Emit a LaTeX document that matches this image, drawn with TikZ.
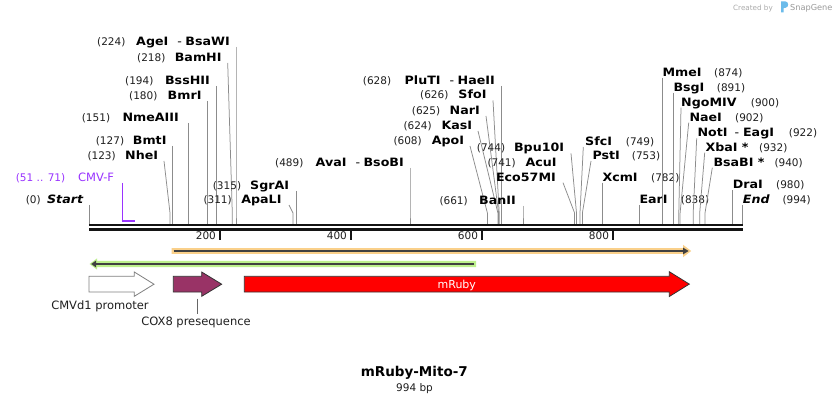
\documentclass[tikz,border=0pt]{standalone}
\usepackage{fontspec}
\setmainfont{DejaVu Sans}
\newfontfamily\nmfam{DejaVu Sans}[FakeStretch=1.1]
\definecolor{siteg}{HTML}{8C8C8C}
\definecolor{primc}{HTML}{9933FF}
\definecolor{orangeL}{HTML}{FAD08A}
\definecolor{greenL}{HTML}{BDF08C}
\definecolor{darkf}{HTML}{404040}
\definecolor{coxc}{HTML}{993366}
\definecolor{rubyc}{HTML}{FF0000}
\definecolor{logob}{HTML}{6BBBEA}
% left-of-line label: id, number, number x, name, name right x, baseline, line start x, site x
\newcommand\cutL[8]{%
  \node[num,anchor=base west] (n#1) at (#3,#6) {#2};
  \node[nm,anchor=base east] (t#1) at (#5,#6) {#4};
  \coordinate (s#1) at (#7,#6+1.5);
  \coordinate (k#1) at (#8,213);
  \coordinate (b#1) at (#8,224);
  \draw[site] (s#1) -- (k#1) -- (b#1);
}
% right-of-line label: id, name, name x, number, number x, baseline, line start x, site x
\newcommand\cutR[8]{%
  \node[nm,anchor=base west] (t#1) at (#3,#6) {#2};
  \node[num,anchor=base west] (n#1) at (#5,#6) {#4};
  \coordinate (s#1) at (#7,#6+1.5);
  \coordinate (k#1) at (#8,213);
  \coordinate (b#1) at (#8,224);
  \draw[site] (s#1) -- (k#1) -- (b#1);
}
\begin{document}
\begin{tikzpicture}[x=1pt,y=-1pt,
  num/.style={inner sep=0pt, font=\fontsize{10.5}{12}\selectfont, text=black!88},
  nm/.style={inner sep=0pt, font=\nmfam\fontsize{11.5}{13}\selectfont\bfseries, text=black},
  flbl/.style={inner sep=0pt, font=\fontsize{11.5}{13}\selectfont, text=black!88},
  site/.style={draw=siteg, line width=0.75pt},
  seqline/.style={line width=2.3pt, draw=black!92},
  tick/.style={line width=2pt, draw=black!92}]
\useasboundingbox (0,0) rectangle (832,403);
\fill[white] (0,0) rectangle (832,403);

% ---- credit ----
\node[inner sep=0pt, anchor=base west, font=\fontsize{7.2}{8}\selectfont, text=black!33] (credit) at (733,10.5) {Created by};
\fill[logob] (781,1.5) -- (785.5,1.5) .. controls (789,1.5) and (789,7.5) .. (785.5,7.8) -- (783.6,8.1) -- (783.6,12.5) -- (781,12.5) -- cycle;
\node[inner sep=0pt, anchor=base west, font=\fontsize{8.2}{9}\selectfont, text=black!40] (brand) at (790,11) {SnapGene};

% ---- sequence line ----
\draw[seqline] (89,225.2) -- (743,225.2);
\draw[seqline] (89,229.6) -- (743,229.6);
\foreach \p/\x in {200/220.1,400/351.1,600/482.2,800/613.2}{
  \draw[tick] (\x,229.6) -- (\x,240);
  \node[num,anchor=base east] (tk\p) at (\x-4,240) {\p};
}

% ---- cut sites, left side ----
\cutL{agei}{(224)}{97}{AgeI\hspace{9pt}{\mdseries-}\hspace{3.5pt}BsaWI}{230}{45.5}{236}{236}
\cutL{bamhi}{(218)}{137}{BamHI}{221.7}{61.5}{227.7}{232.3}
\cutL{bsshii}{(194)}{125}{BssHII}{210}{84.5}{216.5}{216.5}
\cutL{bmri}{(180)}{129}{BmrI}{201.7}{99.5}{207.3}{207.3}
\cutL{nmeaiii}{(151)}{81.7}{NmeAIII}{179}{121.5}{188.5}{188.5}
\cutL{bmti}{(127)}{95.7}{BmtI}{166.7}{144.5}{172.3}{172.3}
\cutL{nhei}{(123)}{87.3}{NheI}{158.3}{159.5}{164}{170}
\cutL{strt}{(0)}{25.7}{\itshape Start}{83.3}{203.5}{89.3}{89.3}
\cutL{sgrai}{(315)}{212.7}{SgrAI}{289.3}{189.5}{296.3}{296.3}
\cutL{apali}{(311)}{203.3}{ApaLI}{281.7}{203.5}{289}{293}
\cutL{avai}{(489)}{275}{AvaI\hspace{9pt}{\mdseries-}\hspace{3.5pt}BsoBI}{404}{166.5}{410}{410}
\cutL{pluti}{(628)}{362.7}{PluTI\hspace{9pt}{\mdseries-}\hspace{3.5pt}HaeII}{495}{84.5}{501.3}{501.3}
\cutL{sfoi}{(626)}{420}{SfoI}{486.7}{99}{493}{499.2}
\cutL{nari}{(625)}{411.7}{NarI}{480}{114.5}{486}{498.6}
\cutL{kasi}{(624)}{403.3}{KasI}{472.3}{129.5}{478}{497.9}
\cutL{apoi}{(608)}{393.3}{ApoI}{464.3}{144.5}{470}{487.4}
\cutL{banii}{(661)}{439.3}{BanII}{516}{204.5}{523}{523}
\cutL{bpu}{(744)}{476.7}{Bpu10I}{564.3}{151.8}{571}{576.5}
\node[num,anchor=base west] (nacui) at (487.3,166.2) {(741)};
\node[nm,anchor=base east] (tacui) at (556.7,166.2) {AcuI};
\node[nm,anchor=base east] (teco) at (556,181.2) {Eco57MI};
\coordinate (seco) at (563,182.7);
\coordinate (keco) at (574.6,213);
\coordinate (beco) at (574.6,224);
\draw[site] (seco) -- (keco) -- (beco);

% ---- cut sites, right side ----
\cutR{sfci}{SfcI}{585}{(749)}{625.7}{145.5}{583.3}{580}
\cutR{psti}{PstI}{592.3}{(753)}{631.7}{159.5}{591}{582.4}
\cutR{xcmi}{XcmI}{602.3}{(782)}{651}{181.2}{602.3}{602.3}
\cutR{eari}{EarI}{639.3}{(838)}{680.7}{203.5}{639.3}{639.3}
\cutR{mmei}{MmeI}{662.3}{(874)}{714}{76.2}{662.3}{662.3}
\cutR{bsgi}{BsgI}{673.3}{(891)}{716.7}{91.2}{673.3}{673.3}
\cutR{ngo}{NgoMIV}{681}{(900)}{750.7}{106.2}{681}{678.8}
\cutR{naei}{NaeI}{689.3}{(902)}{735}{121.2}{688.7}{680.1}
\cutR{noti}{NotI\hspace{7pt}{\mdseries-}\hspace{4pt}EagI}{697.3}{(922)}{788.7}{136.8}{696.7}{693.2}
\cutR{xbai}{XbaI *}{705.3}{(932)}{759}{151.2}{704.7}{699.7}
\cutR{bsabi}{BsaBI *}{713.3}{(940)}{774.3}{166.2}{712.3}{705}
\cutR{drai}{DraI}{732.7}{(980)}{776}{188.8}{732.7}{732.7}
\cutR{fin}{\itshape End}{742.7}{(994)}{782.3}{203.5}{742.7}{742.7}

% ---- primer CMV-F ----
\node[num,anchor=base west,text=primc] (ncmv) at (15.7,181.5) {(51 .. 71)};
\node[flbl,anchor=base east,text=primc] (tcmv) at (114.3,181.5) {CMV-F};
\coordinate (cmvs) at (122.3,183);
\coordinate (cmvk) at (122.3,221.2);
\coordinate (cmve) at (135.2,221.2);
\draw[primc,line width=1.3pt] (cmvs) -- (cmvk);
\draw[primc,line width=2pt] ([xshift=-0.65pt]cmvk) -- (cmve);

% ---- orange feature (forward) ----
\fill[orangeL] (171.7,248.2) -- (683,248.2) -- (683,244.8) -- (691.2,251) -- (683,257.2) -- (683,253.8) -- (171.7,253.8) -- cycle;
\draw[darkf,line width=1.6pt] (173.5,251) -- (684,251);
\fill[darkf] (683,247.6) -- (688.6,251) -- (683,254.4) -- cycle;

% ---- green feature (reverse) ----
\fill[greenL] (476,260.8) -- (97,260.8) -- (97,258.4) -- (89.5,264) -- (97,269.6) -- (97,267.2) -- (476,267.2) -- cycle;
\draw[darkf,line width=1.6pt] (474,264) -- (95,264);
\fill[darkf] (96,260.6) -- (91.2,264) -- (96,267.4) -- cycle;

% ---- feature arrows ----
\filldraw[fill=white,draw=black!50,line width=0.8pt]
  (89,276.3) -- (134.3,276.3) -- (134.3,272) -- (154,284.2) -- (134.3,296.3) -- (134.3,292) -- (89,292) -- cycle;
\node[flbl,anchor=base] (lcmv) at (100,309.7) {CMVd1 promoter};

\filldraw[fill=coxc,draw=black!80,line width=0.8pt]
  (173.3,276.3) -- (201.7,276.3) -- (201.7,272) -- (221.7,284.2) -- (201.7,296.3) -- (201.7,292) -- (173.3,292) -- cycle;
\node[flbl,anchor=base] (lcox) at (196,325.3) {COX8 presequence};
\coordinate (coxb) at (197.3,298.5);
\coordinate (coxe) at (197.3,313.5);
\draw[draw=black!60,line width=0.7pt] (coxb) -- (coxe);

\filldraw[fill=rubyc,draw=black!80,line width=0.8pt]
  (244.3,276.3) -- (669.3,276.3) -- (669.3,271.7) -- (689.3,284.1) -- (669.3,296.5) -- (669.3,292) -- (244.3,292) -- cycle;
\node[inner sep=0pt,anchor=base,font=\fontsize{11}{12}\selectfont,text=white] (lruby) at (456.8,288.2) {mRuby};

% ---- title ----
\node[inner sep=0pt,anchor=base,font=\fontsize{13.5}{15}\selectfont\bfseries] (title) at (414.3,376.7) {mRuby-Mito-7};
\node[num,anchor=base] (bplen) at (414.5,391) {994 bp};
\end{tikzpicture}
\end{document}
